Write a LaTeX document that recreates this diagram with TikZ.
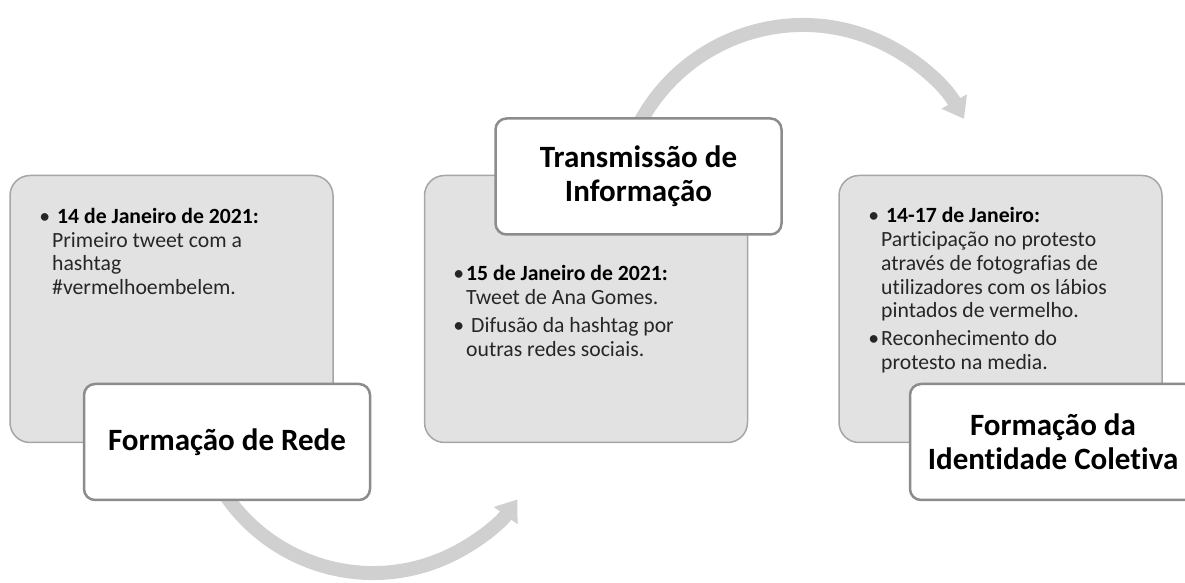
\documentclass[tikz,border=0pt]{standalone}
\usepackage{fontspec}
\setmainfont{Carlito}[Ligatures=NoCommon]
\usetikzlibrary{arrows.meta}
\definecolor{panelfill}{HTML}{E2E2E2}
\definecolor{panelline}{HTML}{A6A6A6}
\definecolor{titleline}{HTML}{8C8C8C}
\definecolor{arcgray}{HTML}{D0D0D0}
\definecolor{bodytext}{HTML}{262626}
\newcommand{\bul}{\leavevmode\llap{\makebox[0pt]{•}\hspace{7.5pt}}}
\begin{document}
\begin{tikzpicture}[x=1pt,y=1pt,
 panel/.style={draw=panelline, line width=1.5pt, fill=panelfill, rounded corners=20pt,
   minimum width=323pt, minimum height=267pt, inner sep=0pt},
 titlebox/.style={draw=titleline, line width=2.5pt, fill=white, rounded corners=11pt,
   minimum width=286pt, minimum height=116pt, inner sep=0pt, align=center,
   font=\fontsize{31}{34}\selectfont\bfseries},
 bodytxt/.style={anchor=base west, inner sep=0pt, text=bodytext,
   font=\fontsize{21.7}{23.7}\selectfont},
 flow/.style={draw=arcgray, line width=14pt, -{Triangle[width=28pt,length=20pt]}}
]
\useasboundingbox (0,0) rectangle (1185,583);
\clip (0,0) rectangle (1185,583);

% curved arrows (behind the boxes)
\coordinate (c1) at (373,188.5);
\coordinate (c2) at (803,373);
\draw[flow] (c1) ++(205:178.5) arc[start angle=205, end angle=324, radius=178.5];
\draw[flow] (c2) ++(155:185) arc[start angle=155, end angle=29.5, radius=185];

% panels
\node[panel] (p1) at (171.5,274) {};
\node[panel] (p2) at (586,274) {};
\node[panel] (p3) at (1000.5,274) {};

% panel texts
\node[bodytxt] (t1) at (52,359.5) {\parbox[t]{270pt}{\raggedright
  \bul\hspace{5pt}\textbf{\color{black}14 de Janeiro de 2021:}\\
  Primeiro tweet com a\\
  hashtag\\
  \#vermelhoembelem.}};
\node[bodytxt] (t2) at (466,302) {\parbox[t]{270pt}{\raggedright
  \bul\textbf{\color{black}15 de Janeiro de 2021:}\\
  Tweet de Ana Gomes.\par\vspace{4.3pt}
  \bul\hspace{5pt}Difusão da hashtag por\\
  outras redes sociais.}};
\node[bodytxt] (t3) at (881,360) {\parbox[t]{290pt}{\raggedright
  \bul\hspace{5pt}\textbf{\color{black}14-17 de Janeiro:}\\
  Participação no protesto\\
  através de fotografias de\\
  utilizadores com os lábios\\
  pintados de vermelho.\par\vspace{4.3pt}
  \bul Reconhecimento do\\
  protesto na media.}};

% title boxes
\node[titlebox] (b1) at (227,141) {Formação de Rede};
\node[titlebox] (b2) at (638.5,406.5) {Transmissão de\\Informação};
\node[titlebox] (b3) at (1053,141) {Formação da\\Identidade Coletiva};
\end{tikzpicture}
\end{document}
